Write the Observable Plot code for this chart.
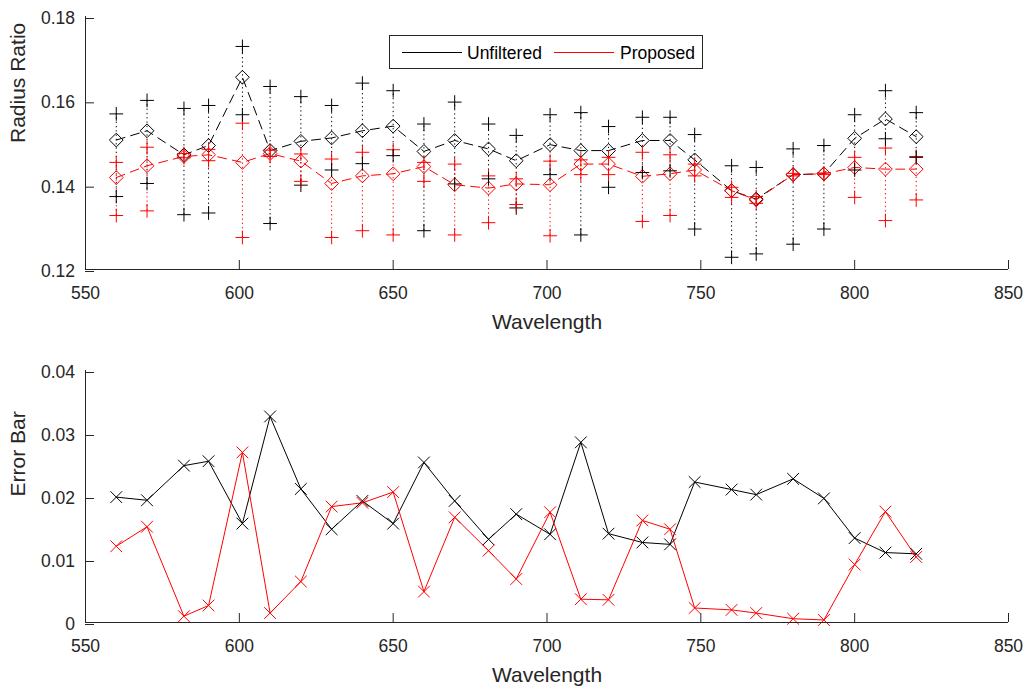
<!DOCTYPE html>
<html>
<head>
<meta charset="utf-8">
<script src="https://cdn.jsdelivr.net/npm/d3@7"></script>
<script src="https://cdn.jsdelivr.net/npm/@observablehq/plot@0.6"></script>
<style>
  body { margin: 0; background: #fff; }
  #wrap { position: relative; width: 1031px; height: 688px; font-family: "Liberation Sans", Arial, Helvetica, sans-serif; color: #262626; }
  #wrap svg { display: block; }
  .legend { position: absolute; left: 389px; top: 35px; width: 314px; height: 34px; border: 1px solid #262626; background: #fff; box-sizing: border-box; }
  .legend .ln { position: absolute; height: 0; border-top: 1px solid; top: 16px; }
  .legend .tx { position: absolute; font-size: 17.5px; line-height: 20px; top: 6.5px; white-space: nowrap; color: #000; }
</style>
</head>
<body>
<div id="wrap"></div>
<script>
// ---- data ----
const wavelength = [560,570,582,590,601,610,620,630,640,650,660,670,681,690,701,711,720,731,740,748,760,768,780,790,800,810,820];
const seriesNames = ["Unfiltered", "Proposed"];

const unfilteredMean = [0.1507,0.1529,0.1472,0.1494,0.1656,0.1482,0.1504,0.1512,0.1529,0.1540,0.1480,0.1506,0.1486,0.1458,0.1496,0.1482,0.1482,0.1506,0.1506,0.1460,0.1387,0.1367,0.1425,0.1427,0.1511,0.1557,0.1515];
const unfilteredHigh = [0.1569,0.1601,0.1582,0.1589,0.1729,0.1634,0.1610,0.1589,0.1642,0.1624,0.1545,0.1597,0.1545,0.1518,0.1567,0.1572,0.1539,0.1561,0.1561,0.1520,0.1446,0.1442,0.1486,0.1494,0.1567,0.1624,0.1572];
const unfilteredLow  = [0.1373,0.1404,0.1330,0.1334,0.1567,0.1309,0.1400,0.1436,0.1451,0.1470,0.1292,0.1403,0.1415,0.1346,0.1425,0.1282,0.1395,0.1430,0.1434,0.1296,0.1229,0.1237,0.1260,0.1296,0.1436,0.1510,0.1466];

const proposedMean = [0.1418,0.1446,0.1468,0.1472,0.1454,0.1475,0.1457,0.1404,0.1422,0.1427,0.1444,0.1401,0.1393,0.1403,0.1401,0.1450,0.1450,0.1421,0.1427,0.1436,0.1387,0.1365,0.1425,0.1427,0.1442,0.1438,0.1438];
const proposedHigh = [0.1454,0.1490,0.1475,0.1485,0.1547,0.1483,0.1474,0.1462,0.1478,0.1484,0.1454,0.1450,0.1422,0.1415,0.1457,0.1460,0.1466,0.1478,0.1472,0.1450,0.1395,0.1373,0.1428,0.1429,0.1466,0.1488,0.1468];
const proposedLow  = [0.1328,0.1339,0.1465,0.1458,0.1276,0.1468,0.1409,0.1276,0.1292,0.1282,0.1409,0.1282,0.1311,0.1354,0.1280,0.1425,0.1425,0.1314,0.1328,0.1422,0.1371,0.1357,0.1422,0.1425,0.1371,0.1316,0.1365];

const unfilteredError = [0.0199,0.0194,0.0249,0.0256,0.0157,0.0327,0.0212,0.0148,0.0193,0.0157,0.0254,0.0193,0.0132,0.0172,0.0140,0.0286,0.0141,0.0127,0.0124,0.0223,0.0211,0.0203,0.0228,0.0197,0.0134,0.0111,0.0109];
const proposedError   = [0.0121,0.0152,0.0010,0.0027,0.0270,0.0015,0.0065,0.0184,0.0190,0.0207,0.0049,0.0167,0.0114,0.0069,0.0175,0.0037,0.0036,0.0162,0.0148,0.0023,0.0020,0.0015,0.0006,0.0004,0.0092,0.0176,0.0104];

const xTicks = [550,600,650,700,750,800,850];
const yTicksRatio = [0.12,0.14,0.16,0.18];
const yTicksError = [0,0.01,0.02,0.03,0.04];

// ---- build tables ----
const ratioRows = [];
const errorRows = [];
const means = [unfilteredMean, proposedMean], highs = [unfilteredHigh, proposedHigh], lows = [unfilteredLow, proposedLow], errs = [unfilteredError, proposedError];
seriesNames.forEach((s, k) => {
  wavelength.forEach((w, i) => {
    ratioRows.push({w, series: s, mean: means[k][i], hi: highs[k][i], lo: lows[k][i]});
    errorRows.push({w, series: s, err: errs[k][i]});
  });
});

const INK = "#262626";
const FONT = '"Liberation Sans", Arial, Helvetica, sans-serif';
const colorScale = {domain: seriesNames, range: ["#000000", "#ff0000"]};
const baseStyle = {fontFamily: FONT, fontSize: "17.5px", color: INK, background: "transparent", overflow: "visible"};

function axes(yDomain, yTicks, yFmt, yLabel) {
  return [
    Plot.ruleY([yDomain[0]], {stroke: INK, strokeWidth: 1}),
    Plot.ruleX([550], {stroke: INK, strokeWidth: 1}),
    Plot.axisX({ticks: xTicks, tickSize: -9, tickPadding: 26, tickFormat: d => String(d), label: null, color: INK, strokeWidth: 1}),
    Plot.axisY({ticks: yTicks, tickSize: -9, tickPadding: 19.5, tickFormat: yFmt, label: null, color: INK, strokeWidth: 1, dy: 2}),
    Plot.text(["Wavelength"], {frameAnchor: "bottom", lineAnchor: "top", dy: 45, fontSize: 21, fill: INK}),
    Plot.text([yLabel], {frameAnchor: "left", rotate: -90, lineAnchor: "middle", dx: -67, fontSize: 21, fill: INK})
  ];
}

const ratioDomain = [0.12, 0.18];
const chartTop = Plot.plot({
  width: 1031, height: 344,
  marginLeft: 85, marginRight: 23, marginTop: 16, marginBottom: 75,
  style: baseStyle,
  x: {domain: [550, 850]},
  y: {domain: ratioDomain},
  color: colorScale,
  marks: [
    Plot.ruleX(ratioRows, {x: "w", y1: "lo", y2: "hi", stroke: "series", strokeWidth: 1, strokeDasharray: "1.3,3"}),
    Plot.line(ratioRows, {x: "w", y: "mean", stroke: "series", z: "series", strokeWidth: 1, strokeDasharray: "9,6"}),
    Plot.dot(ratioRows, {x: "w", y: "mean", stroke: "series", symbol: "diamond2", r: 6.2, strokeWidth: 1}),
    Plot.dot(ratioRows, {x: "w", y: "hi", stroke: "series", symbol: "plus", r: 4.5, strokeWidth: 1}),
    Plot.dot(ratioRows, {x: "w", y: "lo", stroke: "series", symbol: "plus", r: 4.5, strokeWidth: 1}),
    ...axes(ratioDomain, yTicksRatio, d => d.toFixed(2), "Radius Ratio")
  ]
});

const errorDomain = [0, 0.04];
const chartBottom = Plot.plot({
  width: 1031, height: 344,
  marginLeft: 85, marginRight: 23, marginTop: 26, marginBottom: 66,
  style: baseStyle,
  x: {domain: [550, 850]},
  y: {domain: errorDomain},
  color: colorScale,
  marks: [
    Plot.line(errorRows, {x: "w", y: "err", stroke: "series", z: "series", strokeWidth: 1}),
    Plot.dot(errorRows, {x: "w", y: "err", stroke: "series", symbol: "times", r: 5.4, strokeWidth: 1}),
    ...axes(errorDomain, yTicksError, d => d === 0 ? "0" : d.toFixed(2), "Error Bar")
  ]
});

const wrap = document.getElementById("wrap");
wrap.appendChild(chartTop);
wrap.appendChild(chartBottom);

// legend (inside the upper axes)
const legend = document.createElement("div");
legend.className = "legend";
const items = [
  {name: seriesNames[0], color: "#000000", lineLeft: 12, textLeft: 77},
  {name: seriesNames[1], color: "#ff0000", lineLeft: 164, textLeft: 230}
];
items.forEach(it => {
  const ln = document.createElement("div");
  ln.className = "ln";
  ln.style.left = it.lineLeft + "px";
  ln.style.width = "60px";
  ln.style.borderColor = it.color;
  legend.appendChild(ln);
  const tx = document.createElement("span");
  tx.className = "tx";
  tx.style.left = it.textLeft + "px";
  tx.textContent = it.name;
  legend.appendChild(tx);
});
wrap.appendChild(legend);
</script>
</body>
</html>
